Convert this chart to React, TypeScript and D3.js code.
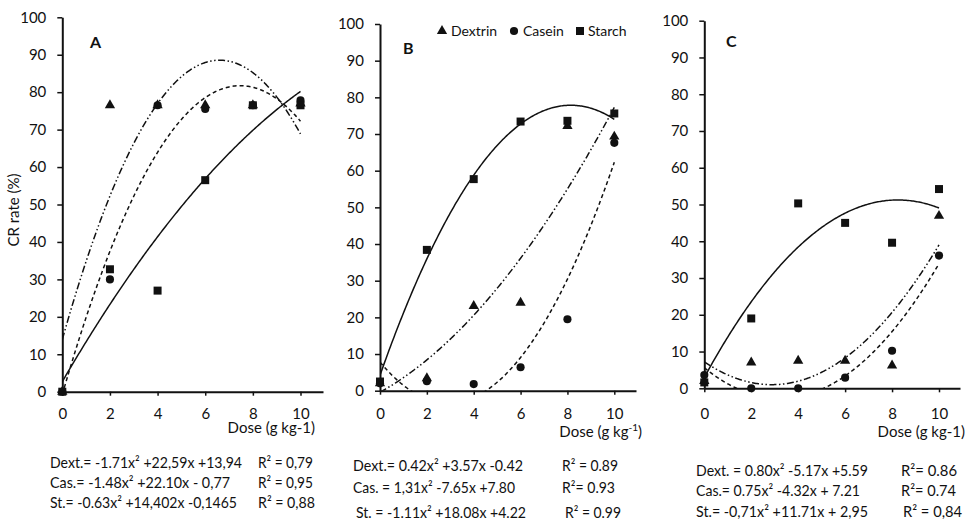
import React from "react";
import * as d3 from "d3";

// doses on the x axis
const doses = [0, 2, 4, 6, 8, 10];
const xTicks = [0, 2, 4, 6, 8, 10];
const yTicks = [0, 10, 20, 30, 40, 50, 60, 70, 80, 90, 100];
const seriesNames = ["Dextrin", "Casein", "Starch"];

// panel A
const dextA = [0, 76.5, 76.5, 76.5, 76.5, 77];
const casA = [0, 30, 76.5, 75.5, 76.5, 77.8];
const stA = [0, 32.7, 27, 56.5, 76.5, 76.5];
const dextFitA = [-1.71, 22.59, 13.94];
const casFitA = [-1.48, 22.1, -0.77];
const stFitA = [-0.32, 10.95, 2.7];
const eqA = ["Dext.= -1.71x² +22,59x +13,94", "Cas.= -1.48x²  +22.10x - 0,77", "St.= -0.63x² +14,402x -0,1465"];
const r2A = ["R² = 0,79", "R² = 0,95", "R² = 0,88"];

// panel B
const dextB = [2, 3.4, 23.1, 24, 72.2, 69.3];
const casB = [2, 2.6, 1.8, 6.4, 19.5, 67.6];
const stB = [2.5, 38.4, 57.7, 73.4, 73.6, 75.6];
const dextFitB = [0.42, 3.57, -0.42];
const casFitB = [1.31, -7.65, 7.8];
const stFitB = [-1.11, 18.08, 4.22];
const eqB = ["Dext.= 0.42x² +3.57x -0.42", "Cas. = 1,31x² -7.65x +7.80", "St. = -1.11x² +18.08x +4.22"];
const r2B = ["R² = 0.89", "R²= 0.93", "R² = 0.99"];

// panel C
const dextC = [2, 7, 7.5, 7.5, 6.2, 46.9];
const casC = [3.6, 0, 0, 2.9, 10.2, 36.1];
const stC = [1.6, 19, 50.3, 45, 39.6, 54.2];
const dextFitC = [0.75, -4.32, 7.21];
const casFitC = [0.8, -5.17, 5.59];
const stFitC = [-0.71, 11.71, 2.95];
const eqC = ["Dext. = 0.80x² -5.17x +5.59", "Cas.= 0.75x² -4.32x + 7.21", "St.= -0,71x² +11.71x + 2,95"];
const r2C = ["R²= 0.86", "R²= 0.74", "R² = 0,84"];

const panels = [
  { key: "A", series: [dextA, casA, stA], fits: [dextFitA, casFitA, stFitA], eqs: eqA, r2: r2A },
  { key: "B", series: [dextB, casB, stB], fits: [dextFitB, casFitB, stFitB], eqs: eqB, r2: r2B },
  { key: "C", series: [dextC, casC, stC], fits: [dextFitC, casFitC, stFitC], eqs: eqC, r2: r2C },
];

const layouts = [
  { x0: 62.3, x10: 300.5, xEnd: 323, y0: 391.7, y100: 17.3, label: [90, 48], title: [315, 433], sup: false,
    eqX: [50, 50, 50], r2X: [258, 258, 258], rowY: [468, 488, 508], eqW: [192, 180, 187], r2W: [55, 55, 57] },
  { x0: 380, x10: 614.3, xEnd: 636, y0: 390.7, y100: 24, label: [403, 54], title: [642, 437], sup: true,
    eqX: [353, 353, 356], r2X: [562, 562, 565], rowY: [471, 493, 518], eqW: [170, 162, 170], r2W: [56, 53, 56] },
  { x0: 704.3, x10: 939, xEnd: 960, y0: 388.3, y100: 20.7, label: [726, 47], title: [965, 437], sup: false,
    eqX: [696, 696, 696], r2X: [901, 901, 903], rowY: [476, 496, 517], eqW: [172, 164, 172], r2W: [56, 55, 59] },
];

const FONT = "Lato, 'Open Sans', sans-serif";
const INK = "#111";
const dashes = ["7,2.5,1.5,2.5,1.5,2.5", "4,3", null];
const symbols = [d3.symbolTriangle, d3.symbolCircle, d3.symbolSquare];
const symSizes = [46, 52, 64];

const poly = (c, v) => c[0] * v * v + c[1] * v + c[2];

const App = () => {
  const ref = React.useRef(null);

  React.useEffect(() => {
    const svg = d3.select(ref.current);
    svg.selectAll("*").remove();
    svg.attr("font-family", FONT);

    panels.forEach((p, i) => {
      const L = layouts[i];
      const xMax = ((L.xEnd - L.x0) / (L.x10 - L.x0)) * 10;
      const x = d3.scaleLinear([0, xMax], [L.x0, L.xEnd]);
      const y = d3.scaleLinear([0, 100], [L.y0, L.y100]);
      const g = svg.append("g");

      const clipId = "clip" + p.key;
      svg.append("clipPath").attr("id", clipId)
        .append("rect")
        .attr("x", x(0)).attr("y", y(100))
        .attr("width", x(10) - x(0) + 1).attr("height", y(0) - y(100));

      // axes
      const yAxis = d3.axisLeft(y).tickValues(yTicks).tickSize(5).tickPadding(11).tickSizeOuter(0);
      const ya = g.append("g").attr("transform", `translate(${L.x0},0)`).call(yAxis);
      const xAxis = d3.axisBottom(x).tickValues(xTicks).tickSize(4).tickPadding(12.8 - (L.y0 - 391.7)).tickSizeOuter(0);
      const xa = g.append("g").attr("transform", `translate(0,${L.y0})`).call(xAxis);
      [ya, xa].forEach(a => {
        a.attr("font-family", FONT).attr("font-size", 15).attr("color", INK);
        a.select(".domain").attr("stroke-width", 2);
        a.selectAll(".tick line").attr("stroke-width", 1.5);
        a.selectAll(".tick text").attr("fill", INK);
      });

      // trend curves
      const xs = d3.range(0, 10.0001, 0.05);
      const line = d3.line().x(v => x(v)).y(v => y(poly(p.fits[k], v)));
      let k = 0;
      for (k = 0; k < 3; k++) {
        const path = g.append("path")
          .attr("d", line(xs))
          .attr("fill", "none")
          .attr("stroke", INK)
          .attr("stroke-width", 1.5)
          .attr("clip-path", `url(#${clipId})`);
        if (dashes[k]) path.attr("stroke-dasharray", dashes[k]);
      }

      // markers
      p.series.forEach((vals, s) => {
        g.append("g").selectAll("path")
          .data(vals)
          .enter().append("path")
          .attr("d", d3.symbol(symbols[s], symSizes[s]))
          .attr("transform", (v, j) => `translate(${x(doses[j])},${y(v)})`)
          .attr("fill", INK);
      });

      // panel letter
      g.append("text").attr("x", L.label[0]).attr("y", L.label[1])
        .attr("font-size", 16).attr("font-weight", "bold").attr("fill", INK).text(p.key);

      // x title
      const t = g.append("text").attr("x", L.title[0]).attr("y", L.title[1])
        .attr("text-anchor", "end").attr("font-size", 15).attr("fill", INK);
      if (L.sup) {
        t.append("tspan").text("Dose (g kg");
        t.append("tspan").attr("dy", -6).attr("font-size", 10).text("-1");
        t.append("tspan").attr("dy", 6).text(")");
      } else {
        t.text("Dose (g kg-1)");
      }

      // equations
      p.eqs.forEach((e, r) => {
        g.append("text").attr("x", L.eqX[r]).attr("y", L.rowY[r])
          .attr("font-size", 15).attr("fill", INK)
          .attr("textLength", L.eqW[r]).attr("lengthAdjust", "spacingAndGlyphs")
          .text(e);
        g.append("text").attr("x", L.r2X[r]).attr("y", L.rowY[r])
          .attr("font-size", 15).attr("fill", INK)
          .attr("textLength", L.r2W[r]).attr("lengthAdjust", "spacingAndGlyphs")
          .text(p.r2[r]);
      });
    });

    // y title
    svg.append("text")
      .attr("transform", "translate(19,210) rotate(-90)")
      .attr("text-anchor", "middle").attr("font-size", 15).attr("fill", INK)
      .text("CR rate (%)");

    // legend in panel B
    const legX = [442, 514, 580];
    const legT = [451, 523, 588];
    seriesNames.forEach((n, s) => {
      svg.append("path")
        .attr("d", d3.symbol(symbols[s], symSizes[s])())
        .attr("transform", `translate(${legX[s]},31)`)
        .attr("fill", INK);
      svg.append("text").attr("x", legT[s]).attr("y", 36)
        .attr("font-size", 14).attr("fill", INK).text(n);
    });
  }, []);

  return (
    <svg ref={ref} width={969} height={521}
      style={{ position: "absolute", left: 0, top: 0, background: "#fff" }} />
  );
};

export default App;
